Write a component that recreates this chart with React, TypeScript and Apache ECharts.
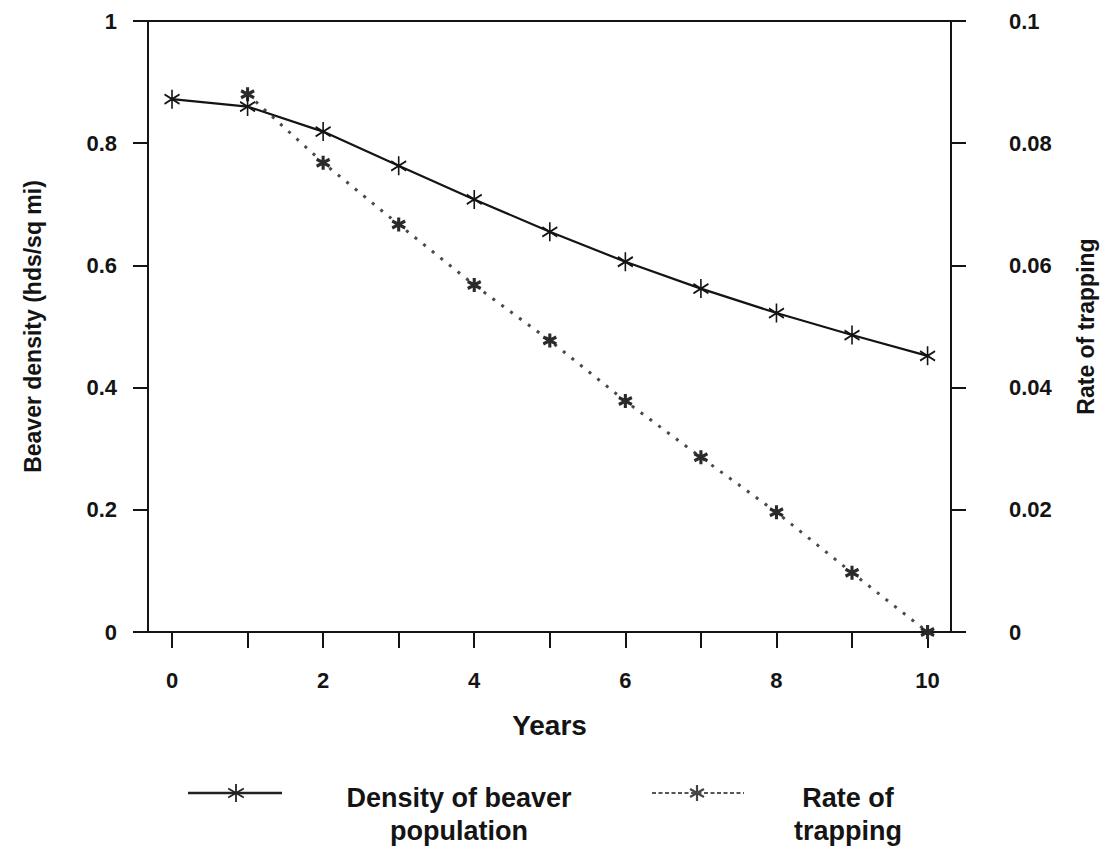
import React, { useEffect, useRef } from "react";
import * as echarts from "echarts";

// ---- data ----
const years = [0, 1, 2, 3, 4, 5, 6, 7, 8, 9, 10];
const density = [0.872, 0.86, 0.819, 0.763, 0.708, 0.655, 0.606, 0.562, 0.522, 0.486, 0.452];
const rateYears = [1, 2, 3, 4, 5, 6, 7, 8, 9, 10];
const rate = [0.088, 0.0768, 0.0667, 0.0568, 0.0477, 0.0378, 0.0286, 0.0196, 0.0097, 0];
const xTickValues = [0, 1, 2, 3, 4, 5, 6, 7, 8, 9, 10];
const xLabelValues = [0, 2, 4, 6, 8, 10];
const densityName = "Density of beaver\npopulation";
const rateName = "Rate of\ntrapping";

const FONT = '"Liberation Sans", Arial, Helvetica, sans-serif';
const INK = "#141414";
const ASTERISK = "path://M0 -10 L0 10 M-8.66 -5 L8.66 5 M-8.66 5 L8.66 -5";

function asterisk(cx: number, cy: number, r: number, w: number, color: string) {
  const dx = r * 0.866;
  const dy = r * 0.5;
  const segs = [
    [cx, cy - r, cx, cy + r],
    [cx - dx, cy - dy, cx + dx, cy + dy],
    [cx - dx, cy + dy, cx + dx, cy - dy],
  ];
  return segs.map((s) => ({
    type: "line",
    shape: { x1: s[0], y1: s[1], x2: s[2], y2: s[3] },
    style: { stroke: color, lineWidth: w },
    z: 10,
  }));
}

export default function App() {
  const ref = useRef<HTMLDivElement>(null);
  useEffect(() => {
    if (!ref.current) return;
    const chart = echarts.init(ref.current, undefined, { renderer: "svg" });
    const labelStyle = { color: INK, fontFamily: FONT, fontWeight: "bold", fontSize: 22 };
    const nameStyle = { color: INK, fontFamily: FONT, fontWeight: "bold", fontSize: 23 };
    const legendText = { fill: INK, font: `bold 27px ${FONT}`, textAlign: "center", textVerticalAlign: "top", lineHeight: 33 };
    chart.setOption({
      animation: false,
      backgroundColor: "#ffffff",
      grid: {
        left: 148,
        top: 21,
        width: 803,
        height: 611,
        show: true,
        borderColor: INK,
        borderWidth: 2,
        backgroundColor: "transparent",
      },
      xAxis: {
        type: "value",
        min: -0.318,
        max: 10.31,
        name: "Years",
        nameLocation: "middle",
        nameGap: 79,
        nameTextStyle: { ...nameStyle, fontSize: 28 },
        axisLine: { show: true, onZero: false, lineStyle: { color: INK, width: 2 } },
        axisTick: { show: true, customValues: xTickValues, length: 16, lineStyle: { color: INK, width: 2 } },
        axisLabel: { customValues: xLabelValues, margin: 37, ...labelStyle },
        splitLine: { show: false },
      },
      yAxis: [
        {
          type: "value",
          position: "left",
          min: 0,
          max: 1,
          interval: 0.2,
          name: "Beaver density (hds/sq mi)",
          nameLocation: "middle",
          nameRotate: 90,
          nameGap: 104,
          nameTextStyle: nameStyle,
          axisLine: { show: true, onZero: false, lineStyle: { color: INK, width: 2 } },
          axisTick: { show: true, inside: false, length: 15, lineStyle: { color: INK, width: 2 } },
          axisLabel: { margin: 31, ...labelStyle },
          splitLine: { show: false },
        },
        {
          type: "value",
          position: "right",
          min: 0,
          max: 0.1,
          interval: 0.02,
          name: "Rate of trapping",
          nameLocation: "middle",
          nameRotate: 90,
          nameGap: 123,
          nameTextStyle: nameStyle,
          axisLine: { show: true, onZero: false, lineStyle: { color: INK, width: 2 } },
          axisTick: { show: true, inside: false, length: 15, lineStyle: { color: INK, width: 2 } },
          axisLabel: { margin: 58, ...labelStyle },
          splitLine: { show: false },
        },
      ],
      series: [
        {
          name: rateName,
          type: "line",
          yAxisIndex: 1,
          data: rateYears.map((y, i) => [y, rate[i]]),
          symbol: ASTERISK,
          symbolSize: [13, 14],
          itemStyle: { color: "#2a2a2a", borderColor: "#2a2a2a", borderWidth: 3.2 },
          lineStyle: { color: "#4a4a4a", width: 3, type: [3, 8] },
          z: 2,
        },
        {
          name: densityName,
          type: "line",
          yAxisIndex: 0,
          data: years.map((y, i) => [y, density[i]]),
          symbol: ASTERISK,
          symbolSize: [15, 19],
          itemStyle: { color: INK, borderColor: INK, borderWidth: 1.8 },
          lineStyle: { color: INK, width: 2.2, type: "solid" },
          z: 3,
        },
      ],
      graphic: [
        {
          type: "line",
          shape: { x1: 188, y1: 793, x2: 282, y2: 793 },
          style: { stroke: "#222", lineWidth: 2.5 },
        },
        ...asterisk(236, 793, 9, 1.8, "#222"),
        {
          type: "text",
          style: { ...legendText, text: densityName, x: 459, y: 781 },
        },
        {
          type: "line",
          shape: { x1: 652, y1: 793, x2: 744, y2: 793 },
          style: { stroke: "#555", lineWidth: 2, lineDash: [4, 2.5] },
        },
        ...asterisk(697, 793, 8, 2.2, "#444"),
        {
          type: "text",
          style: { ...legendText, text: rateName, x: 848, y: 781 },
        },
      ],
    });
    return () => chart.dispose();
  }, []);
  return (
    <div
      ref={ref}
      style={{ position: "fixed", left: 0, top: 0, width: 1111, height: 852, background: "#fff" }}
    />
  );
}
